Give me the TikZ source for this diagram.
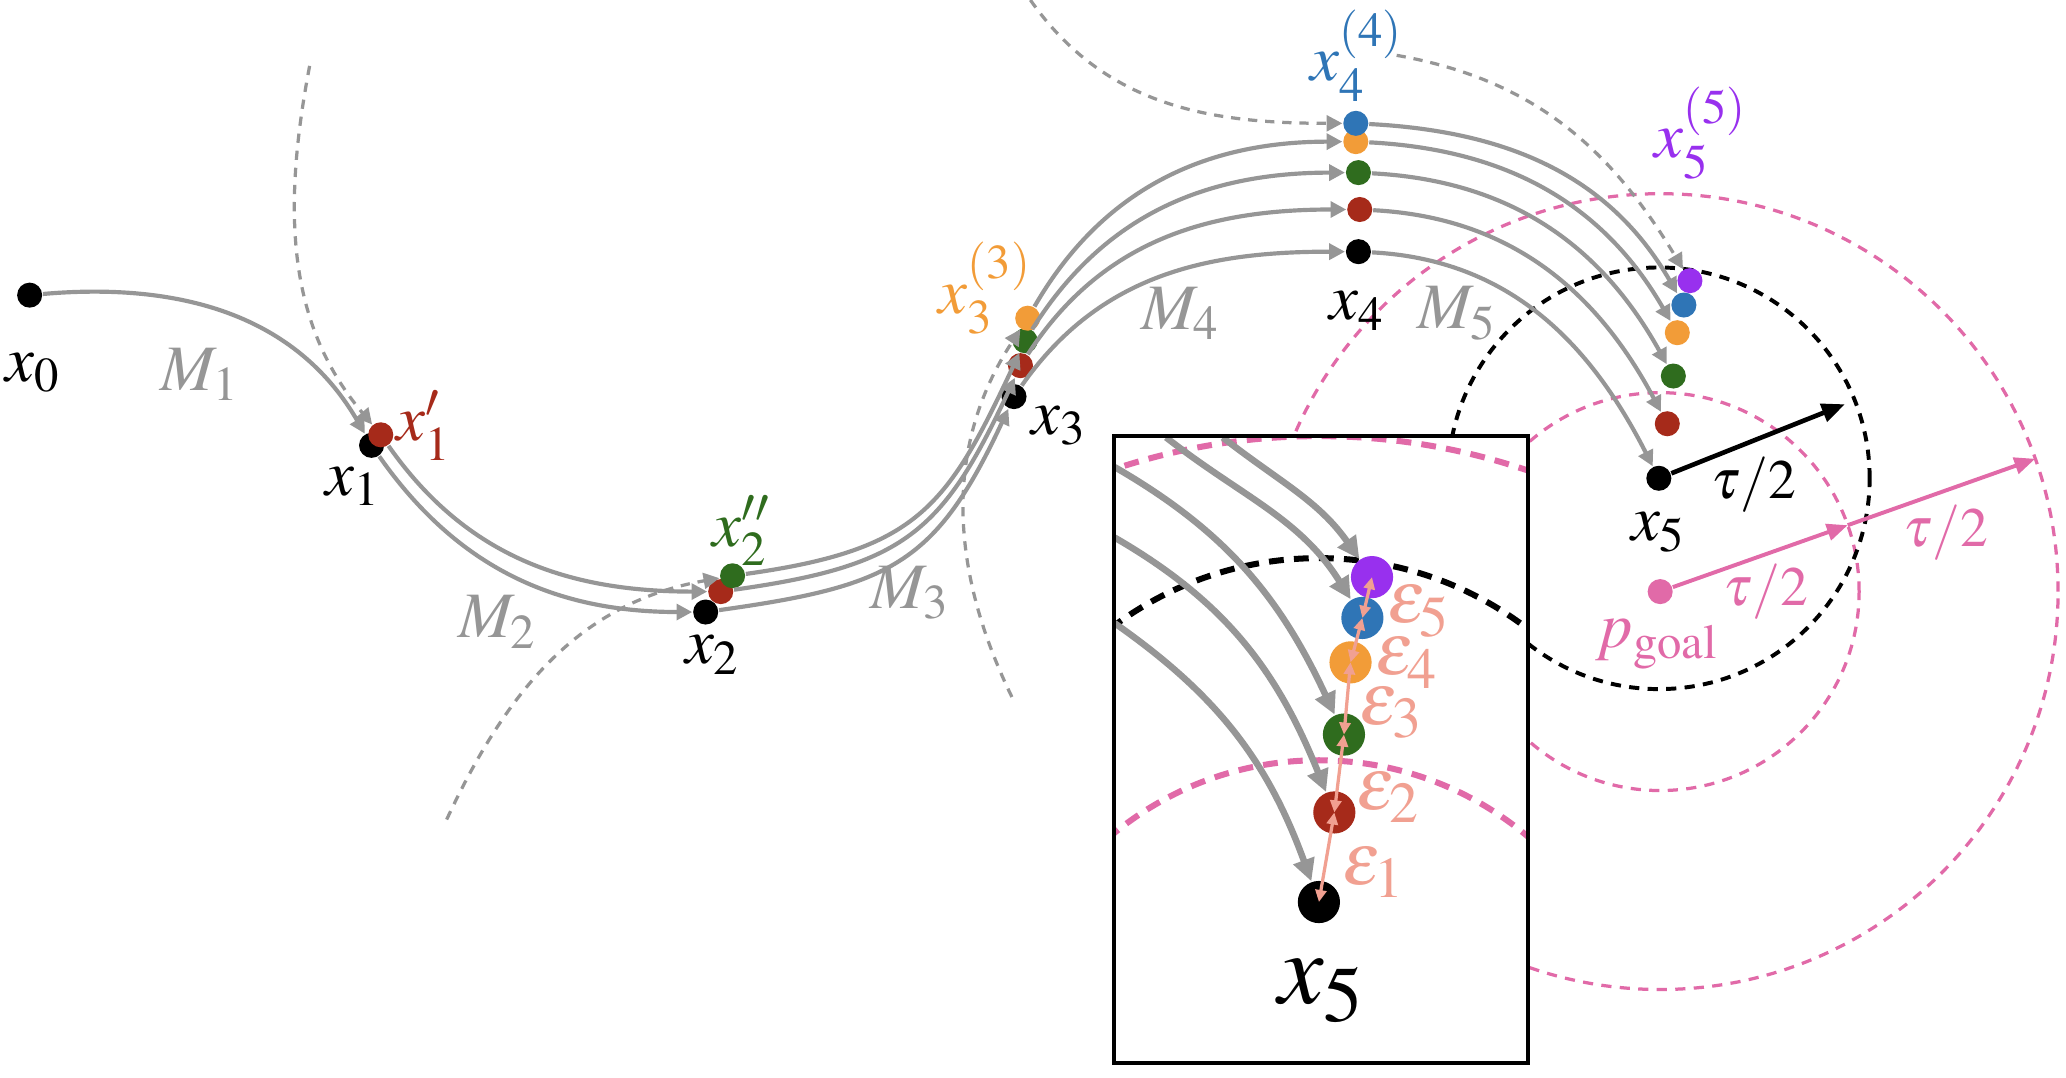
\documentclass[tikz,border=0pt]{standalone}
\usepackage{mathptmx}
\usepackage{xcolor}
\usetikzlibrary{arrows.meta,calc}
\DeclareMathSizes{14}{14}{10.5}{8}
\DeclareMathSizes{16}{16}{12.5}{9}
\DeclareMathSizes{12}{12}{9}{7}
\DeclareMathSizes{22}{22}{17}{13}
\definecolor{arcgray}{RGB}{150,150,150}
\definecolor{ptred}{RGB}{166,42,26}
\definecolor{ptgreen}{RGB}{47,108,30}
\definecolor{ptorange}{RGB}{242,156,56}
\definecolor{ptblue}{RGB}{47,117,182}
\definecolor{ptpurple}{RGB}{152,48,238}
\definecolor{goalpink}{RGB}{225,106,168}
\definecolor{epssalmon}{RGB}{241,160,145}
\tikzset{
	dot/.style={circle, fill=#1, inner sep=0pt, minimum size=0.19cm},
	bigdot/.style={circle, fill=#1, inner sep=0pt, minimum size=0.32cm},
	flow/.style={draw=arcgray, line width=0.9pt, -{Triangle[length=3.4pt,width=3.4pt]}},
	zflow/.style={draw=arcgray, line width=1.4pt, -{Triangle[length=4.8pt,width=4.6pt]}},
	guide/.style={draw=arcgray, line width=0.7pt, dash pattern=on 2pt off 1.7pt, -{Triangle[length=3.4pt,width=3.4pt]}},
	tauring/.style={draw=black, line width=0.85pt, dash pattern=on 2.2pt off 1.8pt},
	goalring/.style={draw=goalpink, line width=0.7pt, dash pattern=on 2.2pt off 1.8pt},
	ztauring/.style={draw=black, line width=1.3pt, dash pattern=on 3.2pt off 2.2pt},
	zgoalring/.style={draw=goalpink, line width=1.3pt, dash pattern=on 3.2pt off 2.2pt},
	tauarrow/.style={draw=black, line width=1pt, -{Triangle[length=5pt,width=4pt]}},
	goalarrow/.style={draw=goalpink, line width=0.85pt, -{Triangle[length=4.5pt,width=3.6pt]}},
	epsarrow/.style={draw=epssalmon, line width=0.7pt, {Triangle[length=2.6pt,width=2.4pt]}-{Triangle[length=2.6pt,width=2.4pt]}},
	lbl/.style={font=\fontsize{14}{16}\selectfont, inner sep=1pt},
	epslbl/.style={font=\fontsize{16}{18}\selectfont, inner sep=0pt, text=epssalmon},
	taulbl/.style={font=\fontsize{12}{14}\selectfont, inner sep=1pt},
	zlbl/.style={font=\fontsize{22}{26}\selectfont, inner sep=1pt}
}
\begin{document}
\begin{tikzpicture}[x=0.01cm, y=0.01cm]
			\useasboundingbox (0,0) rectangle (1568,-818);

			% centres of the regions around x_5 and p_goal
			\coordinate (c5) at (1259,-363);
			\coordinate (cg) at (1260,-449);
			\draw[goalring] (cg) circle (151) (cg) circle (302);
			\draw[tauring] (c5) circle (160);

			% states
			\node[dot=black] (x0) at (22.5,-224) {};
			\node[dot=black] (x1) at (282,-338) {};
			\node[dot=ptred] (x1r) at (289,-330) {};
			\node[dot=black] (x2) at (535.6,-464.5) {};
			\node[dot=ptred] (x2r) at (547,-449) {};
			\node[dot=ptgreen] (x2g) at (556,-437) {};
			\node[dot=black] (x3) at (769.6,-301) {};
			\node[dot=ptred] (x3r) at (774.5,-277.5) {};
			\node[dot=ptgreen] (x3g) at (778,-258.6) {};
			\node[dot=ptorange] (x3o) at (780,-241.5) {};
			\node[dot=black] (x4) at (1031,-191) {};
			\node[dot=ptred] (x4r) at (1032,-159) {};
			\node[dot=ptgreen] (x4g) at (1031,-131) {};
			\node[dot=ptorange] (x4o) at (1029,-107.5) {};
			\node[dot=ptblue] (x4b) at (1029,-93.6) {};
			\node[dot=black] (x5) at (c5) {};
			\node[dot=ptred] (x5r) at (1265.4,-321.6) {};
			\node[dot=ptgreen] (x5g) at (1270,-285.4) {};
			\node[dot=ptorange] (x5o) at (1273,-252.5) {};
			\node[dot=ptblue] (x5b) at (1278,-231.5) {};
			\node[dot=ptpurple] (x5p) at (1282.6,-213) {};
			\node[dot=goalpink] (goal) at (cg) {};

			% M_1 ... M_5
			\draw[flow] (x0) to[out=5,in=120] (x1);
			\draw[flow] (x1) to[out=-55,in=180] (x2);
			\draw[flow] (x1r) to[out=-55,in=180] (x2r);
			\draw[flow] (x2) to[out=8,in=245,looseness=1.25] (x3);
			\draw[flow] (x2r) to[out=8,in=245,looseness=1.25] (x3r);
			\draw[flow] (x2g) to[out=8,in=245,looseness=1.25] (x3g);
			\draw[flow] (x3) to[out=55,in=180] (x4);
			\draw[flow] (x3r) to[out=57,in=180] (x4r);
			\draw[flow] (x3g) to[out=58,in=180] (x4g);
			\draw[flow] (x3o) to[out=60,in=180] (x4o);
			\draw[flow] (x4) to[out=-3,in=117] (x5);
			\draw[flow] (x4r) to[out=-3,in=118] (x5r);
			\draw[flow] (x4g) to[out=-3,in=119] (x5g);
			\draw[flow] (x4o) to[out=-3,in=120] (x5o);
			\draw[flow] (x4b) to[out=-3,in=120] (x5b);

			% new samples coming in
			\coordinate (g1) at (235,-50);
			\coordinate (g2) at (339,-622);
			\coordinate (g3) at (768,-529);
			\coordinate (g4) at (782,0);
			\coordinate (g5) at (1060,-42);
			\draw[guide] (g1) .. controls (212,-170) and (222,-250) .. (x1r);
			\draw[guide] (g2) to[out=65,in=190] (x2g);
			\draw[guide] (g3) .. controls (715,-420) and (722,-330) .. (x3o);
			\draw[guide] (g4) to[out=-55,in=180] (x4b);
			\draw[guide] (g5) to[out=-10,in=121] (x5p);

			% tau/2 radii
			\coordinate (tb) at ($(c5)+(21.7:152)$);
			\coordinate (gmid) at ($(cg)+(19.5:151)$);
			\coordinate (gout) at ($(cg)+(19.5:302)$);
			\draw[tauarrow] (x5) -- (tb);
			\draw[goalarrow] (goal) -- (gmid);
			\draw[goalarrow] (gmid) -- (gout);

			% labels
			\node[lbl] (lx0) at (25,-283) {$x_0$};
			\node[lbl, text=arcgray] (lm1) at (152,-284) {$M_1$};
			\node[lbl] (lx1) at (268,-369) {$x_1$};
			\node[lbl, text=ptred] (lx1r) at (322,-323) {$x_1'$};
			\node[lbl, text=arcgray] (lm2) at (378,-472) {$M_2$};
			\node[lbl] (lx2) at (541,-497) {$x_2$};
			\node[lbl, text=ptgreen] (lx2g) at (563,-403) {$x_2''$};
			\node[lbl, text=arcgray] (lm3) at (691,-450) {$M_3$};
			\node[lbl] (lx3) at (804,-323) {$x_3$};
			\node[lbl, text=ptorange] (lx3o) at (748,-219) {$x_3^{(3)}$};
			\node[lbl, text=arcgray] (lm4) at (896,-238) {$M_4$};
			\node[lbl] (lx4) at (1030,-236) {$x_4$};
			\node[lbl, text=ptblue] (lx4b) at (1030,-42) {$x_4^{(4)}$};
			\node[lbl, text=arcgray] (lm5) at (1106,-238) {$M_5$};
			\node[lbl, text=ptpurple] (lx5p) at (1291,-101) {$x_5^{(5)}$};
			\node[lbl] (lx5) at (1259,-404) {$x_5$};
			\node[lbl, text=goalpink] (lgoal) at (1258,-489) {$p_{\mathrm{goal}}$};
			\node[taulbl] (ltau) at (1331,-368) {$\tau/2$};
			\node[taulbl, text=goalpink] (ltaua) at (1340,-449) {$\tau/2$};
			\node[taulbl, text=goalpink] (ltaub) at (1477,-404) {$\tau/2$};

			% zoomed view of x_5
			\node[fill=white, inner sep=0pt, minimum width=3.13cm, minimum height=4.74cm] (zoombox) at (1002.5,-569) {};
			\begin{scope}
				\clip (zoombox.south west) rectangle (zoombox.north east);
				\coordinate (zc5) at (1001,-684.6);
				\coordinate (zcg) at (1001,-823);
				\draw[zgoalring] (zcg) circle (246) (zcg) circle (492);
				\draw[ztauring] (zc5) circle (261);
				\node[bigdot=black] (z5) at (zc5) {};
				\node[bigdot=ptred] (z5r) at (1012.7,-616.6) {};
				\node[bigdot=ptgreen] (z5g) at (1020,-557.5) {};
				\node[bigdot=ptorange] (z5o) at (1025,-502.7) {};
				\node[bigdot=ptblue] (z5b) at (1034,-469) {};
				\node[bigdot=ptpurple] (z5p) at (1041.3,-438) {};
				\coordinate (za) at (928,-332);
				\coordinate (zb) at (885,-332);
				\coordinate (zc) at (846,-354.5);
				\coordinate (zd) at (846,-408);
				\coordinate (ze) at (846,-473);
				\draw[zflow] (za) to[out=-38,in=125] (z5p);
				\draw[zflow] (zb) to[out=-38,in=122] (z5b);
				\draw[zflow] (zc) to[out=-30,in=115] (z5g);
				\draw[zflow] (zd) to[out=-30,in=112] (z5r);
				\draw[zflow] (ze) to[out=-35,in=110] (z5);
			\end{scope}
			\draw[epsarrow] (z5.center) -- (z5r.center);
			\draw[epsarrow] (z5r.center) -- (z5g.center);
			\draw[epsarrow] (z5g.center) -- (z5o.center);
			\draw[epsarrow] (z5o.center) -- (z5b.center);
			\draw[epsarrow] (z5b.center) -- (z5p.center);
			\node[epslbl] (le1) at (1043,-662) {$\epsilon_1$};
			\node[epslbl] (le2) at (1054,-605) {$\epsilon_2$};
			\node[epslbl] (le3) at (1056,-541) {$\epsilon_3$};
			\node[epslbl] (le4) at (1068,-503) {$\epsilon_4$};
			\node[epslbl] (le5) at (1077,-464) {$\epsilon_5$};
			\node[zlbl] (lz5) at (1003,-752) {$x_5$};
			\draw[line width=0.8pt] (zoombox.north west) rectangle (zoombox.south east);

		\end{tikzpicture}
\end{document}
